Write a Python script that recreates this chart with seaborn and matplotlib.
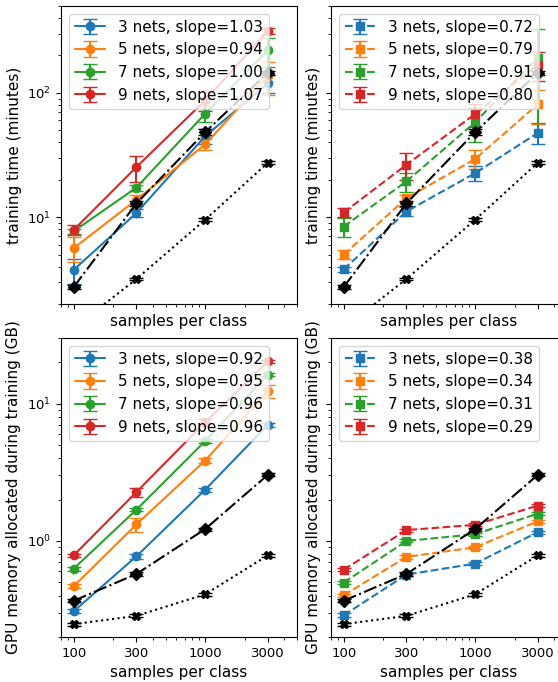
import matplotlib
matplotlib.use("Agg")
import matplotlib.pyplot as plt
import seaborn as sns

# ---- data -------------------------------------------------------------
samples = [100, 300, 1000, 3000]
net_counts = [3, 5, 7, 9]

# training time (minutes), independent training (solid)
time_solid = {
    3: [3.77, 10.8, 44.8, 119],
    5: [5.63, 13.8, 38.5, 137],
    7: [7.7, 17.3, 68, 220],
    9: [7.9, 25.3, 87, 315],
}
time_solid_err = {
    3: [0.85, 0.8, 6, 20],
    5: [1.3, 1.3, 4, 40],
    7: [0.35, 1.0, 10, 58],
    9: [0.7, 6, 15, 20],
}
time_solid_slopes = ["1.03", "0.94", "1.00", "1.07"]

# training time (minutes), joint training (dashed)
time_dashed = {
    3: [3.8, 11.1, 22.6, 47.6],
    5: [5.0, 14.2, 29.4, 81],
    7: [8.4, 19.4, 58, 192],
    9: [10.9, 26.4, 67.6, 169],
}
time_dashed_err = {
    3: [0.2, 0.9, 3.2, 9],
    5: [0.4, 1.0, 5, 25],
    7: [1.5, 3.4, 18, 135],
    9: [0.9, 6.5, 14, 45],
}
time_dashed_slopes = ["0.72", "0.79", "0.91", "0.80"]

# reference curves for training time
time_ref_dashdot = [2.74, 12.9, 48.3, 145]
time_ref_dashdot_err = [0.1, 0.5, 2.5, 5]
time_ref_dotted = [1.28, 3.18, 9.53, 27.4]
time_ref_dotted_err = [0.03, 0.08, 0.25, 0.7]

# GPU memory (GB), independent training (solid)
mem_solid = {
    3: [0.308, 0.773, 2.36, 7.0],
    5: [0.468, 1.32, 3.85, 12.3],
    7: [0.629, 1.69, 5.33, 16.2],
    9: [0.786, 2.27, 7.3, 20.3],
}
mem_solid_err = {
    3: [0.01, 0.03, 0.07, 0.2],
    5: [0.015, 0.15, 0.15, 1.3],
    7: [0.02, 0.05, 0.15, 0.4],
    9: [0.02, 0.17, 0.4, 0.5],
}
mem_solid_slopes = ["0.92", "0.95", "0.96", "0.96"]

# GPU memory (GB), joint training (dashed)
mem_dashed = {
    3: [0.288, 0.569, 0.684, 1.16],
    5: [0.403, 0.765, 0.899, 1.39],
    7: [0.498, 1.0, 1.12, 1.58],
    9: [0.618, 1.2, 1.31, 1.81],
}
mem_dashed_err = {
    3: [0.01, 0.015, 0.02, 0.03],
    5: [0.01, 0.02, 0.025, 0.04],
    7: [0.012, 0.025, 0.03, 0.04],
    9: [0.015, 0.03, 0.03, 0.05],
}
mem_dashed_slopes = ["0.38", "0.34", "0.31", "0.29"]

# reference curves for GPU memory
mem_ref_dashdot = [0.367, 0.575, 1.22, 3.03]
mem_ref_dashdot_err = [0.01, 0.015, 0.03, 0.08]
mem_ref_dotted = [0.248, 0.285, 0.409, 0.786]
mem_ref_dotted_err = [0.006, 0.007, 0.01, 0.02]

x_ticks = [100, 300, 1000, 3000]
x_tick_labels = ["100", "300", "1000", "3000"]

# ---- style ------------------------------------------------------------
sns.set_theme(style="ticks", palette="tab10", rc={
    "axes.edgecolor": "black",
    "axes.linewidth": 0.8,
    "axes.labelcolor": "black",
    "text.color": "black",
    "xtick.color": "black",
    "ytick.color": "black",
    "xtick.major.size": 3.5,
    "ytick.major.size": 3.5,
    "xtick.minor.size": 2,
    "ytick.minor.size": 2,
    "xtick.major.width": 0.8,
    "ytick.major.width": 0.8,
    "xtick.minor.width": 0.6,
    "ytick.minor.width": 0.6,
    "xtick.labelsize": 9.5,
    "ytick.labelsize": 9.5,
    "axes.labelsize": 11,
    "legend.fontsize": 11,
    "legend.frameon": True,
    "legend.framealpha": 0.8,
    "legend.edgecolor": "0.8",
    "legend.fancybox": True,
    "lines.linewidth": 1.5,
    "lines.markersize": 6,
})
plt.rcParams["font.family"] = ["DejaVu Sans"]
palette = sns.color_palette("tab10")

fig = plt.figure(figsize=(5.58, 6.82), dpi=100)
W, H = 558, 682


def add_ax(left, top, right, bottom):
    return fig.add_axes([left / W, 1 - bottom / H, (right - left) / W, (bottom - top) / H])


ax_tl = add_ax(61, 6, 297, 304)
ax_tr = add_ax(331, 6, 567, 304)
ax_bl = add_ax(61, 338, 297, 637)
ax_br = add_ax(331, 338, 567, 637)


def draw_panel(ax, means, errs, slopes, linestyle, marker, ref_dd, ref_dd_err, ref_dot, ref_dot_err):
    for i, n in enumerate(net_counts):
        ax.errorbar(samples, means[n], yerr=errs[n], color=palette[i], linestyle=linestyle,
                    marker=marker, capsize=5, label=f"{n} nets, slope={slopes[i]}")
    ax.errorbar(samples, ref_dd, yerr=ref_dd_err, color="black", linestyle="-.",
                marker="D", capsize=5)
    ax.errorbar(samples, ref_dot, yerr=ref_dot_err, color="black", linestyle=":",
                marker="X", capsize=5)
    ax.set_xscale("log")
    ax.set_yscale("log")
    ax.set_xlim(80, 5000)
    ax.set_xticks(x_ticks)
    ax.set_xticklabels(x_tick_labels)
    ax.set_xlabel("samples per class")
    ax.legend(loc="upper left")


draw_panel(ax_tl, time_solid, time_solid_err, time_solid_slopes, "-", "o",
           time_ref_dashdot, time_ref_dashdot_err, time_ref_dotted, time_ref_dotted_err)
draw_panel(ax_tr, time_dashed, time_dashed_err, time_dashed_slopes, "--", "s",
           time_ref_dashdot, time_ref_dashdot_err, time_ref_dotted, time_ref_dotted_err)
draw_panel(ax_bl, mem_solid, mem_solid_err, mem_solid_slopes, "-", "o",
           mem_ref_dashdot, mem_ref_dashdot_err, mem_ref_dotted, mem_ref_dotted_err)
draw_panel(ax_br, mem_dashed, mem_dashed_err, mem_dashed_slopes, "--", "s",
           mem_ref_dashdot, mem_ref_dashdot_err, mem_ref_dotted, mem_ref_dotted_err)

for ax in (ax_tl, ax_tr):
    ax.set_ylim(2, 500)
    ax.set_ylabel("training time (minutes)")
    ax.tick_params(axis="x", which="both", labelbottom=False)
for ax in (ax_bl, ax_br):
    ax.set_ylim(0.2, 30)
    ax.set_ylabel("GPU memory allocated during training (GB)")
for ax in (ax_tr, ax_br):
    ax.tick_params(axis="y", which="both", labelleft=False)

fig.savefig("out.png", dpi=100)
